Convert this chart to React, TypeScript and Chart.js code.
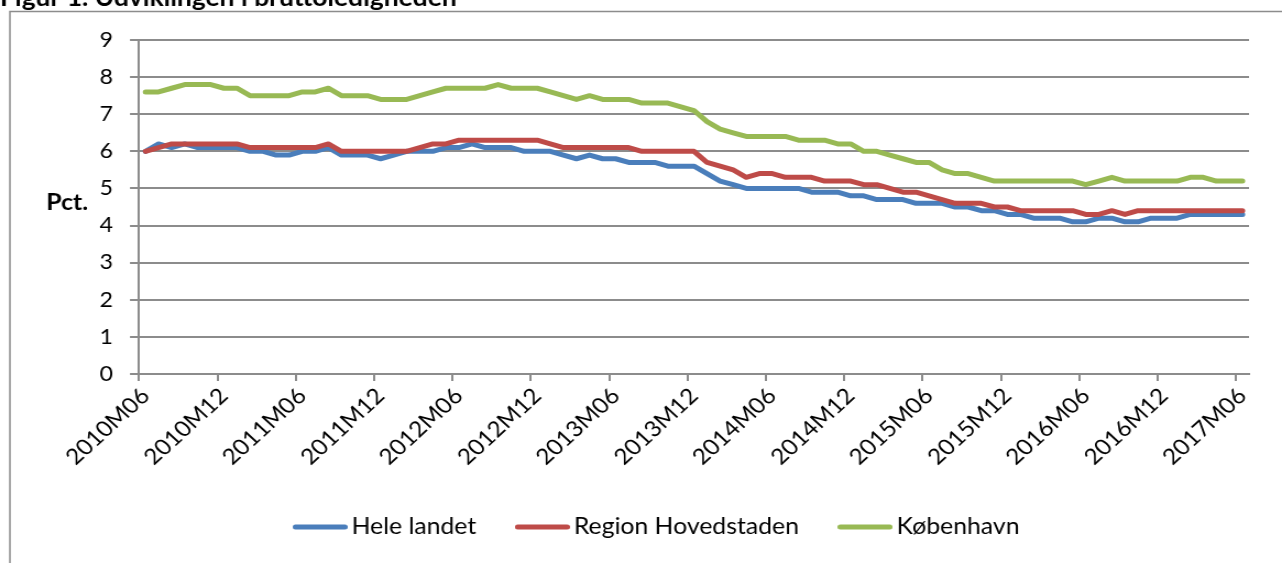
import React, { useEffect, useRef } from "react";
import { Chart, registerables } from "chart.js";

Chart.register(...registerables);

// ---- data ----
const categories: string[] = [
  "2010M06", "2010M07", "2010M08", "2010M09", "2010M10", "2010M11", "2010M12",
  "2011M01", "2011M02", "2011M03", "2011M04", "2011M05", "2011M06", "2011M07", "2011M08", "2011M09", "2011M10", "2011M11", "2011M12",
  "2012M01", "2012M02", "2012M03", "2012M04", "2012M05", "2012M06", "2012M07", "2012M08", "2012M09", "2012M10", "2012M11", "2012M12",
  "2013M01", "2013M02", "2013M03", "2013M04", "2013M05", "2013M06", "2013M07", "2013M08", "2013M09", "2013M10", "2013M11", "2013M12",
  "2014M01", "2014M02", "2014M03", "2014M04", "2014M05", "2014M06", "2014M07", "2014M08", "2014M09", "2014M10", "2014M11", "2014M12",
  "2015M01", "2015M02", "2015M03", "2015M04", "2015M05", "2015M06", "2015M07", "2015M08", "2015M09", "2015M10", "2015M11", "2015M12",
  "2016M01", "2016M02", "2016M03", "2016M04", "2016M05", "2016M06", "2016M07", "2016M08", "2016M09", "2016M10", "2016M11", "2016M12",
  "2017M01", "2017M02", "2017M03", "2017M04", "2017M05", "2017M06",
];

const heleLandet: number[] = [
  6.0, 6.2, 6.1, 6.2, 6.1, 6.1, 6.1, 6.1, 6.0, 6.0, 5.9, 5.9, 6.0, 6.0, 6.1, 5.9, 5.9, 5.9, 5.8, 5.9,
  6.0, 6.0, 6.0, 6.1, 6.1, 6.2, 6.1, 6.1, 6.1, 6.0, 6.0, 6.0, 5.9, 5.8, 5.9, 5.8, 5.8, 5.7, 5.7, 5.7,
  5.6, 5.6, 5.6, 5.4, 5.2, 5.1, 5.0, 5.0, 5.0, 5.0, 5.0, 4.9, 4.9, 4.9, 4.8, 4.8, 4.7, 4.7, 4.7, 4.6,
  4.6, 4.6, 4.5, 4.5, 4.4, 4.4, 4.3, 4.3, 4.2, 4.2, 4.2, 4.1, 4.1, 4.2, 4.2, 4.1, 4.1, 4.2, 4.2, 4.2,
  4.3, 4.3, 4.3, 4.3, 4.3,
];

const regionHovedstaden: number[] = [
  6.0, 6.1, 6.2, 6.2, 6.2, 6.2, 6.2, 6.2, 6.1, 6.1, 6.1, 6.1, 6.1, 6.1, 6.2, 6.0, 6.0, 6.0, 6.0, 6.0,
  6.0, 6.1, 6.2, 6.2, 6.3, 6.3, 6.3, 6.3, 6.3, 6.3, 6.3, 6.2, 6.1, 6.1, 6.1, 6.1, 6.1, 6.1, 6.0, 6.0,
  6.0, 6.0, 6.0, 5.7, 5.6, 5.5, 5.3, 5.4, 5.4, 5.3, 5.3, 5.3, 5.2, 5.2, 5.2, 5.1, 5.1, 5.0, 4.9, 4.9,
  4.8, 4.7, 4.6, 4.6, 4.6, 4.5, 4.5, 4.4, 4.4, 4.4, 4.4, 4.4, 4.3, 4.3, 4.4, 4.3, 4.4, 4.4, 4.4, 4.4,
  4.4, 4.4, 4.4, 4.4, 4.4,
];

const koebenhavn: number[] = [
  7.6, 7.6, 7.7, 7.8, 7.8, 7.8, 7.7, 7.7, 7.5, 7.5, 7.5, 7.5, 7.6, 7.6, 7.7, 7.5, 7.5, 7.5, 7.4, 7.4,
  7.4, 7.5, 7.6, 7.7, 7.7, 7.7, 7.7, 7.8, 7.7, 7.7, 7.7, 7.6, 7.5, 7.4, 7.5, 7.4, 7.4, 7.4, 7.3, 7.3,
  7.3, 7.2, 7.1, 6.8, 6.6, 6.5, 6.4, 6.4, 6.4, 6.4, 6.3, 6.3, 6.3, 6.2, 6.2, 6.0, 6.0, 5.9, 5.8, 5.7,
  5.7, 5.5, 5.4, 5.4, 5.3, 5.2, 5.2, 5.2, 5.2, 5.2, 5.2, 5.2, 5.1, 5.2, 5.3, 5.2, 5.2, 5.2, 5.2, 5.2,
  5.3, 5.3, 5.2, 5.2, 5.2,
];

const seriesNames: string[] = ["Hele landet", "Region Hovedstaden", "København"];
const yTicks: number[] = [0, 1, 2, 3, 4, 5, 6, 7, 8, 9];
const yAxisLabel = "Pct.";
const titleText = "Figur 1. Udviklingen i bruttoledigheden";

// ---- layout / style ----
const PAGE_W = 1282;
const PAGE_H = 563;
const W = 1165;
const STRETCH = PAGE_W / W;
const FONT = "Lato, 'Open Sans', sans-serif";
const GRID = "#8c8c8c";
const COLORS = ["#4a7ebb", "#be4b48", "#98b954"];
const PAD_LEFT = 65;
const PLOT_LEFT = 126.3;

function legendSample(color: string): HTMLCanvasElement {
  const c = document.createElement("canvas");
  c.width = 50;
  c.height = 6;
  const g = c.getContext("2d")!;
  g.strokeStyle = color;
  g.lineWidth = 5;
  g.lineCap = "round";
  g.beginPath();
  g.moveTo(2.5, 3);
  g.lineTo(47.5, 3);
  g.stroke();
  return c;
}

const extraText = {
  id: "extraText",
  beforeDraw(chart: any) {
    const ctx = chart.ctx;
    ctx.save();
    ctx.strokeStyle = GRID;
    ctx.lineWidth = 1.5;
    ctx.strokeRect(9, 11.5, 3000, 3000);
    ctx.restore();
  },
  afterDraw(chart: any) {
    const ctx = chart.ctx;
    const { top, bottom } = chart.chartArea;
    ctx.save();
    ctx.fillStyle = "#000";
    ctx.font = `bold 22.5px ${FONT}`;
    ctx.textAlign = "center";
    ctx.textBaseline = "middle";
    ctx.fillText(yAxisLabel, 61, (top + bottom) / 2 - 4);
    ctx.font = `bold 24px ${FONT}`;
    ctx.textAlign = "left";
    ctx.textBaseline = "alphabetic";
    ctx.fillText(titleText, 0, 6);
    ctx.restore();
  },
};

export default function App() {
  const ref = useRef<HTMLCanvasElement | null>(null);

  useEffect(() => {
    if (!ref.current) return;
    const values = [heleLandet, regionHovedstaden, koebenhavn];
    const chart = new Chart(ref.current, {
      type: "line",
      data: {
        labels: categories,
        datasets: values.map((v, i) => ({
          label: seriesNames[i],
          data: v,
          borderColor: COLORS[i],
          backgroundColor: COLORS[i],
          borderWidth: 5,
          pointRadius: 0,
          pointHoverRadius: 0,
          pointStyle: legendSample(COLORS[i]),
          tension: 0,
          borderJoinStyle: "round" as const,
          borderCapStyle: "round" as const,
          fill: false,
          order: 3 - i,
        })),
      },
      options: {
        responsive: false,
        animation: false,
        devicePixelRatio: 1,
        layout: { padding: { left: PAD_LEFT, right: 30, top: 40, bottom: 14.75 } },
        plugins: {
          legend: {
            position: "bottom",
            labels: {
              font: { family: FONT, size: 22.5 },
              color: "#000",
              usePointStyle: true,
              pointStyleWidth: 34.7,
              padding: 42.8,
              sort: (a: any, b: any) => a.datasetIndex - b.datasetIndex,
            },
          },
          tooltip: { enabled: false },
        },
        scales: {
          x: {
            type: "category",
            offset: true,
            afterFit: (s: any) => {
              s.height = 98.95;
            },
            grid: {
              offset: true,
              drawOnChartArea: false,
              drawTicks: true,
              tickLength: 7,
              lineWidth: 2,
              color: (c: any) => (c.index % 6 === 0 ? GRID : "rgba(0,0,0,0)"),
            },
            border: { display: true, color: GRID, width: 2 },
            ticks: {
              autoSkip: false,
              maxRotation: 45,
              minRotation: 45,
              padding: 2,
              color: "#000",
              font: { family: FONT, size: 22 },
              callback: (_v: any, i: number) => (i % 6 === 0 ? categories[i] : ""),
            },
          },
          y: {
            min: 0,
            max: 9,
            afterFit: (s: any) => {
              s.width = PLOT_LEFT - PAD_LEFT;
            },
            afterBuildTicks: (s: any) => {
              s.ticks = yTicks.map((v) => ({ value: v }));
            },
            grid: {
              color: GRID,
              lineWidth: 2,
              tickLength: 8.2,
              drawTicks: true,
            },
            border: { display: true, color: GRID, width: 2 },
            ticks: {
              padding: 15.4,
              color: "#000",
              font: { family: FONT, size: 21 },
            },
          },
        },
      },
      plugins: [extraText],
    });
    return () => chart.destroy();
  }, []);

  return (
    <div
      style={{
        position: "fixed",
        left: 0,
        top: 0,
        width: PAGE_W,
        height: PAGE_H,
        overflow: "hidden",
        background: "#fff",
      }}
    >
      <div
        style={{
          width: W,
          height: PAGE_H,
          transform: `scaleX(${STRETCH})`,
          transformOrigin: "0 0",
        }}
      >
        <canvas ref={ref} width={W} height={PAGE_H} style={{ display: "block" }} />
      </div>
    </div>
  );
}
